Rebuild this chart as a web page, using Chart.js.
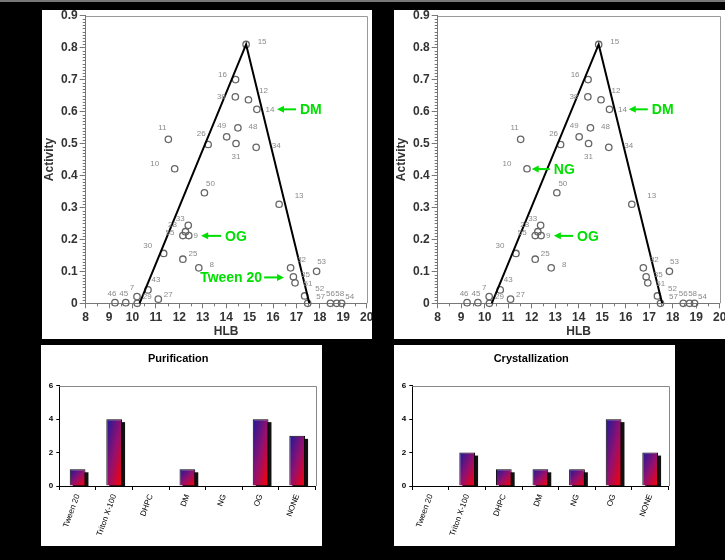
<!DOCTYPE html>
<html>
<head>
<meta charset="utf-8">
<script src="https://cdn.jsdelivr.net/npm/chart.js@4.4.0/dist/chart.umd.min.js"></script>
<style>
  html, body { margin: 0; padding: 0; background: #000; }
  #page { position: relative; width: 725px; height: 560px; background: #000; overflow: hidden; }
  #topline { position: absolute; left: 0; top: 0; width: 725px; height: 2px; background: #777; }
  .panel { position: absolute; background: #fff; overflow: hidden; }
  canvas { display: block; }
</style>
</head>
<body>
<div id="page">
  <div id="topline"></div>
  <div class="panel" style="left:42px;top:10px;width:330px;height:329px"><canvas id="hlbLeft" width="330" height="329"></canvas></div>
  <div class="panel" style="left:394px;top:10px;width:331px;height:329px"><canvas id="hlbRight" width="331" height="329"></canvas></div>
  <div class="panel" style="left:41px;top:345px;width:281px;height:201px"><canvas id="purif" width="281" height="201"></canvas></div>
  <div class="panel" style="left:394px;top:345px;width:281px;height:201px"><canvas id="cryst" width="281" height="201"></canvas></div>
</div>
<script>
// ---- data ----
const pointIds = ["15","16","38","12","14","49","48","31","34","26","11","10","50","13","33","28","55","9","30","25","8","43","7","29","27","46","45","32","35","51","52","57","53","56","58","54"];
const hlbValues = [14.85,14.40,14.39,14.95,15.31,14.02,14.50,14.42,15.28,13.23,11.53,11.80,13.07,16.26,12.38,12.26,12.15,12.40,11.33,12.15,12.83,10.66,10.19,10.20,11.10,9.25,9.71,16.75,16.87,16.94,17.35,17.48,17.86,18.45,18.72,18.93];
const activityValues = [0.81,0.70,0.646,0.637,0.607,0.521,0.549,0.50,0.488,0.497,0.513,0.421,0.346,0.310,0.244,0.224,0.212,0.212,0.156,0.138,0.111,0.042,0.021,0.0,0.013,0.002,0.002,0.111,0.083,0.064,0.023,0.0,0.100,0.0,0.0,0.0];
const triangleHlb = [10.3, 14.85, 17.55];
const triangleActivity = [0, 0.81, 0];

const detergents = ["Tween 20", "Triton X-100", "DHPC", "DM", "NG", "OG", "NONE"];
const purificationCounts = [1, 4, 0, 1, 0, 4, 3];
const crystallizationCounts = [0, 2, 1, 1, 1, 4, 2];

// green call-outs (arrow tip / tail on the HLB axis, height on activity axis)
const notesLeft = [
  { text: "DM", tip: 16.17, tail: 16.98, y: 0.607 },
  { text: "OG", tip: 12.93, tail: 13.78, y: 0.211 },
  { text: "Tween 20", tip: 16.47, tail: 15.62, y: 0.081 },
];
const notesRight = [
  { text: "DM", tip: 16.13, tail: 16.94, y: 0.607 },
  { text: "NG", tip: 12.0, tail: 12.77, y: 0.42 },
  { text: "OG", tip: 12.94, tail: 13.76, y: 0.211 },
];

// where each number sits relative to its circle (px)
const labelOffsets = {
  "15": [16,-3], "16": [-13,-5], "38": [-14,0], "12": [15,-9], "14": [13,0],
  "49": [-5,-11], "48": [15,-1], "31": [0,13], "34": [20,-2], "26": [-7,-11],
  "11": [-6,-12], "10": [-20,-5], "50": [6,-9], "13": [20,-8], "33": [-8,-7],
  "28": [-13,-7], "55": [-13,-3], "9": [7,0], "30": [-16,-8], "25": [10,-5],
  "8": [13,-3], "43": [8,-10], "7": [-5,-9], "29": [10,-7], "27": [10,-4],
  "46": [-3,-9], "45": [-2,-9], "32": [11,-8], "35": [12,-2], "51": [13,1],
  "52": [15,-7], "57": [13,-7], "53": [5,-10], "56": [0,-10], "58": [3,-10], "54": [8,-7]
};

Chart.defaults.font.family = "'Liberation Sans', Arial, sans-serif";
const GREEN = "#00e000";

// ---- plugins ----
const framePlugin = {
  id: "frame",
  beforeDatasetsDraw(chart, args, opts) {
    const { ctx, chartArea: a } = chart;
    ctx.save();
    ctx.strokeStyle = opts.color || "#999";
    ctx.lineWidth = 1;
    ctx.beginPath();
    ctx.moveTo(a.left, Math.round(a.top) + 0.5);
    ctx.lineTo(Math.round(a.right) + 0.5, Math.round(a.top) + 0.5);
    ctx.lineTo(Math.round(a.right) + 0.5, a.bottom);
    ctx.stroke();
    ctx.restore();
  }
};

const minorTicks = {
  id: "minorTicks",
  afterDraw(chart) {
    const { ctx, chartArea: a, scales: { x, y } } = chart;
    ctx.save();
    ctx.strokeStyle = "#777";
    ctx.lineWidth = 1;
    ctx.beginPath();
    for (let v = 8.5; v < 20; v += 1) {
      const px = Math.round(x.getPixelForValue(v)) + 0.5;
      ctx.moveTo(px, a.bottom); ctx.lineTo(px, a.bottom + 3);
    }
    for (let k = 1; k < 90; k++) {
      if (k % 10 === 0) continue;
      const py = Math.round(y.getPixelForValue(k / 100)) + 0.5;
      ctx.moveTo(a.left - 3, py); ctx.lineTo(a.left, py);
    }
    ctx.stroke();
    ctx.restore();
  }
};

const idLabels = {
  id: "idLabels",
  afterDatasetsDraw(chart) {
    const { ctx } = chart;
    const meta = chart.getDatasetMeta(1);
    ctx.save();
    ctx.font = "8px 'Liberation Sans', Arial, sans-serif";
    ctx.fillStyle = "#8a8a8a";
    ctx.textAlign = "center";
    ctx.textBaseline = "middle";
    meta.data.forEach((pt, i) => {
      const id = pointIds[i];
      const off = labelOffsets[id] || [8, -8];
      ctx.fillText(id, pt.x + off[0], pt.y + off[1]);
    });
    ctx.restore();
  }
};

const arrowNotes = {
  id: "arrowNotes",
  afterDraw(chart, args, opts) {
    const { ctx, scales: { x, y } } = chart;
    ctx.save();
    ctx.strokeStyle = GREEN;
    ctx.fillStyle = GREEN;
    ctx.lineWidth = 2;
    ctx.font = "bold 14px 'Liberation Sans', Arial, sans-serif";
    ctx.textBaseline = "middle";
    (opts.items || []).forEach(n => {
      const py = y.getPixelForValue(n.y);
      const tip = x.getPixelForValue(n.tip);
      const tail = x.getPixelForValue(n.tail);
      const dir = tail > tip ? 1 : -1;
      ctx.beginPath();
      ctx.moveTo(tail, py);
      ctx.lineTo(tip + dir * 5, py);
      ctx.stroke();
      ctx.beginPath();
      ctx.moveTo(tip, py);
      ctx.lineTo(tip + dir * 7, py - 3.5);
      ctx.lineTo(tip + dir * 7, py + 3.5);
      ctx.closePath();
      ctx.fill();
      if (dir > 0) { ctx.textAlign = "left"; ctx.fillText(n.text, tail + 4, py + 1); }
      else { ctx.textAlign = "right"; ctx.fillText(n.text, tail - 2, py + 1); }
    });
    ctx.restore();
  }
};

const barShadow = {
  id: "barShadow",
  beforeDatasetsDraw(chart) {
    const { ctx, chartArea: a } = chart;
    ctx.save();
    ctx.beginPath();
    ctx.rect(a.left, a.top, a.right - a.left, a.bottom - a.top);
    ctx.clip();
    ctx.fillStyle = "#111";
    chart.getDatasetMeta(0).data.forEach(bar => {
      const h = bar.base - bar.y;
      if (h <= 0) return;
      ctx.fillRect(bar.x - bar.width / 2 + 3, bar.y + 3, bar.width, h);
    });
    ctx.restore();
  }
};

// gradient per bar: dark blue top-left to red bottom-right
function barGradient(c) {
  const chart = c.chart;
  if (!chart.chartArea || !chart.scales.x || c.raw === undefined) return "#8c1478";
  const xs = chart.scales.x, ys = chart.scales.y;
  const cx = xs.getPixelForValue(c.dataIndex);
  const w = (xs.width / detergents.length) * 0.43;
  const top = ys.getPixelForValue(c.raw);
  const base = ys.getPixelForValue(0);
  const h = Math.max(base - top, 1);
  const left = cx - w / 2;
  const t = (2 * w * h) / (h * h + w * w);
  const g = chart.ctx.createLinearGradient(left, top, left + h * t, top + w * t);
  g.addColorStop(0, "#1a1a9a");
  g.addColorStop(0.5, "#921070");
  g.addColorStop(1, "#ff0000");
  return g;
}

// ---- charts ----
function hlbChart(id, rightPad, notes) {
  const points = hlbValues.map((v, i) => ({ x: v, y: activityValues[i] }));
  const tri = triangleHlb.map((v, i) => ({ x: v, y: triangleActivity[i] }));
  return new Chart(document.getElementById(id), {
    type: "scatter",
    data: {
      datasets: [
        { data: tri, showLine: true, borderColor: "#000", borderWidth: 2, pointRadius: 0, clip: false },
        { data: points, pointRadius: 3.2, borderWidth: 1.3, borderColor: "#666", backgroundColor: "rgba(0,0,0,0)", clip: false }
      ]
    },
    options: {
      responsive: false,
      animation: false,
      events: [],
      layout: { padding: { left: 0, right: rightPad, top: 5.7, bottom: 0 } },
      plugins: {
        legend: { display: false },
        tooltip: { enabled: false },
        frame: { color: "#999" },
        arrowNotes: { items: notes }
      },
      scales: {
        x: {
          type: "linear", min: 8, max: 20,
          ticks: { stepSize: 1, maxRotation: 0, padding: 2, color: "#333", font: { size: 12, weight: "bold" } },
          grid: { drawOnChartArea: false, tickLength: 5, color: "#777" },
          border: { color: "#777" },
          title: { display: true, text: "HLB", color: "#333", font: { size: 12, weight: "bold" }, padding: 0 },
          afterFit: s => { s.height = 35.7; s.paddingLeft = 0; s.paddingRight = 0; }
        },
        y: {
          min: 0, max: 0.9,
          ticks: { stepSize: 0.1, padding: 2, color: "#333", font: { size: 12, weight: "bold" },
                   callback: v => (Math.abs(v) < 1e-9 ? "0" : Number(v).toFixed(1)) },
          grid: { drawOnChartArea: false, tickLength: 6, color: "#777" },
          border: { color: "#777" },
          title: { display: true, text: "Activity", color: "#333", font: { size: 12, weight: "bold" }, padding: 0 },
          afterFit: s => { s.width = 43.7; s.paddingTop = 0; s.paddingBottom = 0; }
        }
      }
    },
    plugins: [framePlugin, minorTicks, idLabels, arrowNotes]
  });
}

function countChart(id, title, counts) {
  return new Chart(document.getElementById(id), {
    type: "bar",
    data: {
      labels: detergents,
      datasets: [{
        data: counts,
        backgroundColor: barGradient,
        borderColor: "#000",
        borderWidth: 1,
        barPercentage: 0.43,
        categoryPercentage: 1
      }]
    },
    options: {
      responsive: false,
      animation: false,
      events: [],
      layout: { padding: { left: 0, right: 6.5, top: 0, bottom: 0 } },
      plugins: {
        legend: { display: false },
        tooltip: { enabled: false },
        title: { display: true, text: title, color: "#000", font: { size: 11, weight: "bold" }, padding: { top: 7, bottom: 20.5 } },
        frame: { color: "#888" }
      },
      scales: {
        x: {
          ticks: { autoSkip: false, minRotation: 70, maxRotation: 70, padding: 3, color: "#000", font: { size: 8 } },
          grid: { drawOnChartArea: false, tickLength: 4, color: "#000", offset: true },
          border: { color: "#000" },
          afterFit: s => { s.height = 60; s.paddingLeft = 0; s.paddingRight = 0; }
        },
        y: {
          min: 0, max: 6,
          ticks: { stepSize: 2, padding: 3, color: "#000", font: { size: 8, weight: "bold" } },
          grid: { drawOnChartArea: false, tickLength: 3, color: "#000" },
          border: { color: "#000" },
          afterFit: s => { s.width = 18.3; s.paddingTop = 0; s.paddingBottom = 0; }
        }
      }
    },
    plugins: [framePlugin, barShadow]
  });
}

hlbChart("hlbLeft", 4, notesLeft);
hlbChart("hlbRight", 5, notesRight);
countChart("purif", "Purification", purificationCounts);
countChart("cryst", "Crystallization", crystallizationCounts);
</script>
</body>
</html>
